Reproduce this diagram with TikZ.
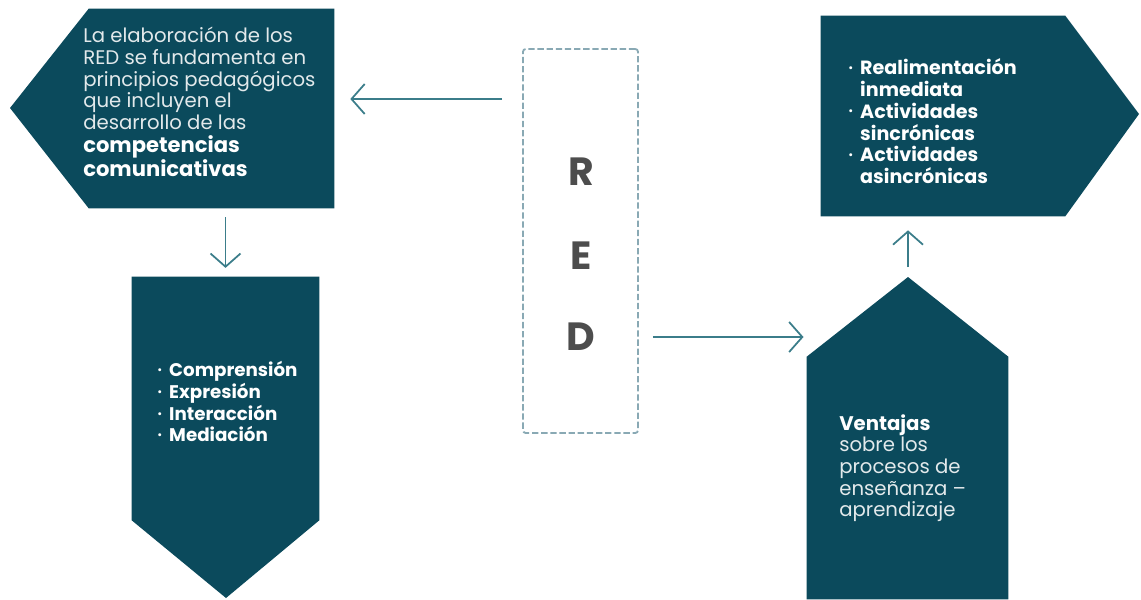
\documentclass[tikz,border=0pt]{standalone}
\usepackage{fontspec}
\setmainfont{Poppins}
\usetikzlibrary{arrows.meta}

\definecolor{petroleo}{HTML}{0B4A5C}
\definecolor{flechas}{HTML}{3B7D8A}
\definecolor{punteado}{HTML}{89A9B4}
\definecolor{letras}{HTML}{4D4D4D}
\newcommand{\vineta}{\makebox[8.5pt][l]{\raisebox{0.3ex}{\scriptsize\textbullet}}}
\newcommand{\sangria}{\hspace*{8.5pt}}

\begin{document}
\begin{tikzpicture}[x=0.025cm, y=-0.025cm,
  cuerpo/.style={rectangle, inner sep=0pt},
  claro/.style={inner sep=0pt, anchor=north west, align=left, text=white!88!petroleo, font=\fontsize{14}{15.4}\selectfont},
  oscuro/.style={inner sep=0pt, anchor=north west, align=left, text=white, font=\fontsize{13}{15.5}\selectfont\bfseries},
  letra/.style={inner sep=0pt, text=letras, font=\fontsize{28}{30}\selectfont\bfseries},
  flecha/.style={draw=flechas, line width=1.25pt, -{Straight Barb[length=3.3mm, width=7.5mm, line width=1.25pt]}}]

  \useasboundingbox (0,0) rectangle (1141,599);

  % cuerpos de las figuras
  \node[cuerpo, minimum width=6.125cm, minimum height=4.975cm] (intro) at (211.5,108.5) {};
  \node[cuerpo, minimum width=4.675cm, minimum height=6.075cm] (habilidades) at (225.5,398.5) {};
  \node[cuerpo, minimum width=6.1cm, minimum height=5cm] (recursos) at (943,116) {};
  \node[cuerpo, minimum width=5.025cm, minimum height=6.05cm] (ventajas) at (907.5,478) {};
  \node[cuerpo, minimum width=2.875cm, minimum height=9.6cm, draw=punteado, line width=1.3pt, dash pattern=on 4.5pt off 2pt, rounded corners=2pt] (red) at (580.5,241) {};
  \coordinate (punta) at (908,277);

  % pentagonos
  \fill[petroleo] (intro.north east) -- (intro.north west) -- (10,108) -- (intro.south west) -- (intro.south east) -- cycle;
  \fill[petroleo] (habilidades.north west) -- (habilidades.north east) -- (habilidades.south east) -- (226,598) -- (habilidades.south west) -- cycle;
  \fill[petroleo] (recursos.north west) -- (recursos.north east) -- (1139,114) -- (recursos.south east) -- (recursos.south west) -- cycle;
  \fill[petroleo] (ventajas.south west) -- (ventajas.north west) -- (punta) -- (ventajas.north east) -- (ventajas.south east) -- cycle;

  % textos
  \node[claro] (t1) at (83,27) {La elaboración de los\\RED se fundamenta en\\principios pedagógicos\\que incluyen el\\desarrollo de las\\[1pt]{\fontsize{15}{16}\selectfont\bfseries\color{white}competencias}\\{\fontsize{15}{16}\selectfont\bfseries\color{white}comunicativas}};
  \node[oscuro] (t2) at (157,361) {\vineta Comprensión\\\vineta Expresión\\\vineta Interacción\\\vineta Mediación};
  \node[oscuro, font=\fontsize{13.6}{15.6}\selectfont\bfseries] (t3) at (848,58) {\vineta Realimentación\\\sangria inmediata\\\vineta Actividades\\\sangria sincrónicas\\\vineta Actividades\\\sangria asincrónicas};
  \node[claro] (t4) at (839,414) {{\bfseries\color{white}Ventajas}\\sobre los\\procesos de\\enseñanza –\\aprendizaje};

  \node[letra] (r) at (581,172) {R};
  \node[letra] (e) at (581,256) {E};
  \node[letra] (d) at (581,337) {D};

  % flechas
  \path[] (red.west |- 0,99) edge [flecha, shorten <=5mm, shorten >=4mm] node [] {} (intro.east |- 0,99);
  \path[] (intro.south -| habilidades.north) edge [flecha, shorten <=2.2mm, shorten >=2.2mm] node [] {} (habilidades.north);
  \path[] (red.east |- 0,337) edge [flecha, shorten <=3.5mm, shorten >=0.8mm] node [] {} (ventajas.west |- 0,337);
  \path[] (punta) edge [flecha, shorten <=2.5mm, shorten >=3.5mm] node [] {} (recursos.south -| punta);
\end{tikzpicture}
\end{document}
